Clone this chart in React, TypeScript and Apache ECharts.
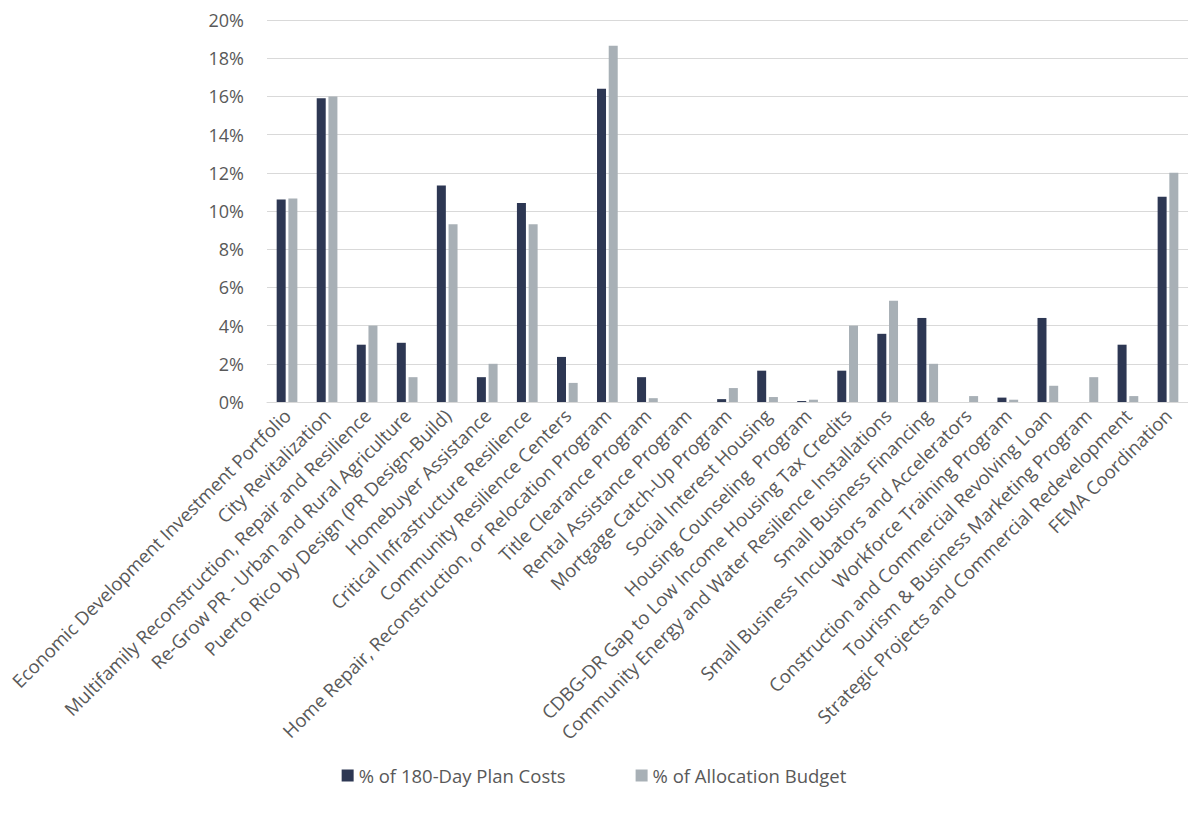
import React, { useEffect, useRef } from "react";
import * as echarts from "echarts";

const categories = [
  "Economic Development Investment Portfolio",
  "City Revitalization",
  "Multifamily Reconstruction, Repair and Resilience",
  "Re-Grow PR - Urban and Rural Agriculture",
  "Puerto Rico by Design (PR Design-Build)",
  "Homebuyer Assistance",
  "Critical Infrastructure Resilience",
  "Community Resilience Centers",
  "Home Repair, Reconstruction, or Relocation Program",
  "Title Clearance Program",
  "Rental Assistance Program",
  "Mortgage Catch-Up Program",
  "Social Interest Housing",
  "Housing Counseling  Program",
  "CDBG-DR Gap to Low Income Housing Tax Credits",
  "Community Energy and Water Resilience Installations",
  "Small Business Financing",
  "Small Business Incubators and Accelerators",
  "Workforce Training Program",
  "Construction and Commercial Revolving Loan",
  "Tourism & Business Marketing Program",
  "Strategic Projects and Commercial Redevelopment",
  "FEMA Coordination",
];

const planCosts = [
  10.6, 15.9, 3.0, 3.1, 11.34, 1.3, 10.42, 2.36, 16.4, 1.3, 0, 0.15, 1.64, 0.05,
  1.64, 3.57, 4.4, 0, 0.23, 4.4, 0, 3.0, 10.75,
];

const allocationBudget = [
  10.65, 16.0, 4.0, 1.3, 9.3, 2.0, 9.3, 1.0, 18.65, 0.2, 0, 0.73, 0.26, 0.12,
  4.0, 5.3, 2.0, 0.31, 0.12, 0.85, 1.3, 0.31, 12.0,
];

const seriesNames = ["% of 180-Day Plan Costs", "% of Allocation Budget"];

export default function App() {
  const ref = useRef<HTMLDivElement>(null);
  useEffect(() => {
    if (!ref.current) return;
    const chart = echarts.init(ref.current, undefined, { renderer: "svg" });
    const font = "'Open Sans', sans-serif";
    chart.setOption({
      animation: false,
      textStyle: { fontFamily: font },
      grid: { left: 267, right: 0, top: 20, bottom: 418, containLabel: false },
      legend: {
        data: seriesNames,
        bottom: 30,
        left: "center",
        icon: "rect",
        itemWidth: 12,
        itemHeight: 12,
        itemGap: 70,
        textStyle: { color: "#595959", fontSize: 18.5, fontFamily: font },
      },
      xAxis: {
        type: "category",
        data: categories,
        axisTick: { show: false },
        axisLine: { lineStyle: { color: "#d9d9d9", width: 1 } },
        axisLabel: {
          interval: 0,
          rotate: 45,
          margin: 10,
          color: "#595959",
          fontSize: 18.5,
          fontFamily: font,
        },
      },
      yAxis: {
        type: "value",
        min: 0,
        max: 20,
        interval: 2,
        axisLine: { show: false },
        axisTick: { show: false },
        splitLine: { lineStyle: { color: "#d9d9d9", width: 1 } },
        axisLabel: {
          formatter: "{value}%",
          color: "#595959",
          fontSize: 18,
          margin: 23,
          fontFamily: font,
        },
      },
      series: [
        {
          name: seriesNames[0],
          type: "bar",
          data: planCosts,
          barWidth: 9,
          barGap: "30%",
          itemStyle: { color: "#2d3753" },
        },
        {
          name: seriesNames[1],
          type: "bar",
          data: allocationBudget,
          barWidth: 9,
          itemStyle: { color: "#a8b0b6" },
        },
      ],
    });
    return () => chart.dispose();
  }, []);
  return (
    <div
      ref={ref}
      style={{ position: "absolute", left: 0, top: 0, width: 1188, height: 820, background: "#fff" }}
    />
  );
}
